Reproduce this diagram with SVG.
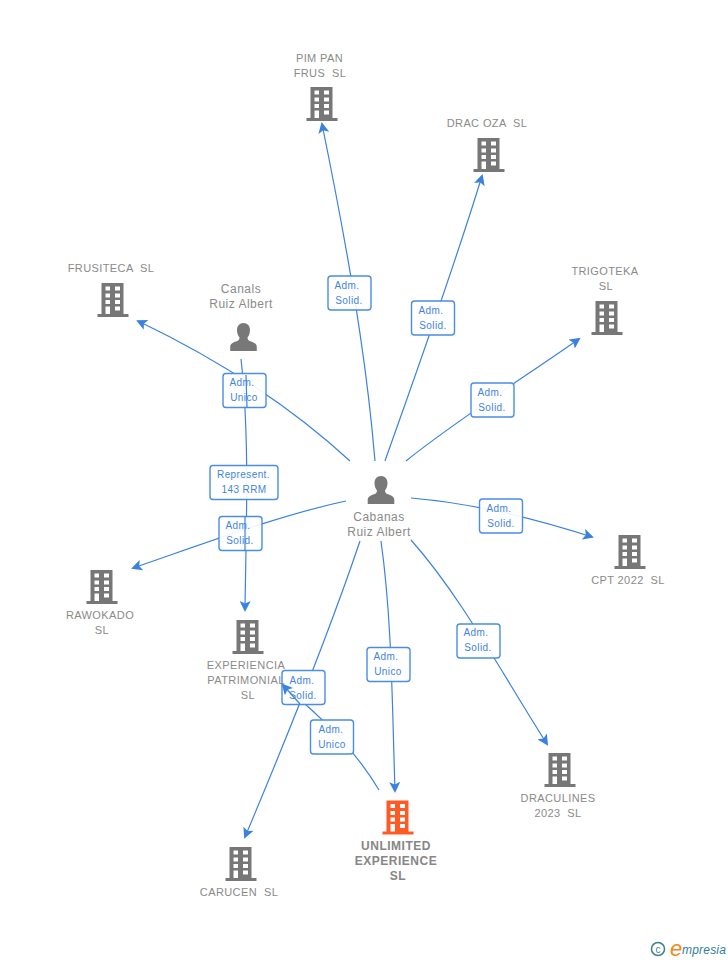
<svg xmlns="http://www.w3.org/2000/svg" xmlns:xlink="http://www.w3.org/1999/xlink" width="728" height="960" viewBox="0 0 728 960">
<style>
text{font-family:"Liberation Sans",Arial,sans-serif}
.n{font-size:11px;fill:#8a8a8a;text-anchor:middle;letter-spacing:.4px}
.p{font-size:12px;fill:#8a8a8a;text-anchor:middle;letter-spacing:.5px}
.u{font-size:12px;fill:#868686;text-anchor:middle;font-weight:bold;letter-spacing:.5px}
.l{font-size:10px;fill:#3f84e5;text-anchor:middle;letter-spacing:.4px}
.c{fill:none;stroke:#3b82e0;stroke-width:1.2}
.b{fill:#fff;fill-opacity:.93;stroke:#4a8de6;stroke-width:1.4}
</style>
<defs>
<marker id="a" markerWidth="13" markerHeight="11" refX="9" refY="5.500" orient="auto" markerUnits="userSpaceOnUse"><path d="M0 0L11 5.500L0 11L2.500 5.500Z" fill="#3b82e0"/></marker>
<symbol id="bld" viewBox="0 0 32 35" width="32" height="35" overflow="visible">
<path fill-rule="evenodd" fill="currentColor" d="M4.500 1H26.500V32H31.500V35H0.500V32H4.500ZM8.500 4.500V8.500H13V4.500ZM18 4.500V8.500H23V4.500ZM8.500 11.500V15.500H13V11.500ZM18 11.500V15.500H23V11.500ZM8.500 18V22H13V18ZM18 18V22H23V18ZM8.500 24.500V32H13V24.500ZM18 24.500V28.500H23V24.500Z"/>
</symbol>
<symbol id="per" viewBox="0 0 28 28" width="28" height="28" overflow="visible">
<path fill="#787878" d="M14 0C18 0 20.500 3 20.500 7C20.500 10 19.500 12.500 18 14.500C18 16.500 18.800 17.500 21 18.300C25 19.800 27.300 21 27.300 24V28H0.700V24C0.700 21 3 19.800 7 18.300C9.200 17.500 10 16.500 10 14.500C8.500 12.500 7.500 10 7.500 7C7.500 3 10 0 14 0Z"/>
</symbol>
</defs>
<g id="connectors">
<path class="c" d="M375 461C369 390 358 300 322 124" marker-end="url(#a)"/>
<path class="c" d="M385 461C410 390 450 280 482 176" marker-end="url(#a)"/>
<path class="c" d="M406 461C450 425 520 380 579 339" marker-end="url(#a)"/>
<path class="c" d="M350 461C300 415 230 365 138 321" marker-end="url(#a)"/>
<path class="c" d="M411 498C470 503 530 517 592 537" marker-end="url(#a)"/>
<path class="c" d="M346 501C280 515 200 545 133 568" marker-end="url(#a)"/>
<path class="c" d="M360 541C330 630 290 730 245 837" marker-end="url(#a)"/>
<path class="c" d="M381 541C392 620 392 700 395 791" marker-end="url(#a)"/>
<path class="c" d="M411 540C460 595 500 670 547 744" marker-end="url(#a)"/>
<path class="c" d="M379 790C355 750 325 720 283 685" marker-end="url(#a)"/>
<path class="c" d="M241 359C250 440 246 530 245 610" marker-end="url(#a)"/>
</g>
<g id="labels">
<g id="lbl-pim"><rect class="b" x="328" y="276" width="43" height="34" rx="3"/><text class="l" x="347" y="289">Adm.</text><text class="l" x="349" y="304">Solid.</text></g>
<g id="lbl-drac"><rect class="b" x="411.500" y="301" width="43" height="34" rx="3"/><text class="l" x="431" y="314">Adm.</text><text class="l" x="433" y="329">Solid.</text></g>
<g id="lbl-trig"><rect class="b" x="471" y="383" width="43" height="34" rx="3"/><text class="l" x="490" y="396">Adm.</text><text class="l" x="492" y="411">Solid.</text></g>
<g id="lbl-frus"><rect class="b" x="223" y="373.500" width="43" height="34" rx="3"/><text class="l" x="242" y="386">Adm.</text><text class="l" x="244" y="401">Unico</text></g>
<g id="lbl-cpt"><rect class="b" x="479.500" y="499" width="43" height="34" rx="3"/><text class="l" x="499" y="512">Adm.</text><text class="l" x="501" y="527">Solid.</text></g>
<g id="lbl-rep"><rect class="b" x="210" y="465.500" width="68" height="34" rx="3"/><text class="l" x="243.500" y="478">Represent.</text><text class="l" x="244" y="493">143 RRM</text></g>
<g id="lbl-raw"><rect class="b" x="219" y="516.500" width="43" height="34" rx="3"/><text class="l" x="238" y="529">Adm.</text><text class="l" x="240" y="544">Solid.</text></g>
<g id="lbl-drl"><rect class="b" x="457" y="624" width="43" height="34" rx="3"/><text class="l" x="476" y="636">Adm.</text><text class="l" x="478" y="651">Solid.</text></g>
<g id="lbl-unl"><rect class="b" x="367" y="647.500" width="43" height="34" rx="3"/><text class="l" x="386" y="660">Adm.</text><text class="l" x="388" y="675">Unico</text></g>
<g id="lbl-car"><rect class="b" x="282" y="670.500" width="43" height="34" rx="3"/><text class="l" x="302" y="684">Adm.</text><text class="l" x="303" y="699">Solid.</text></g>
<g id="lbl-exp"><rect class="b" x="310.500" y="720" width="43" height="34" rx="3"/><text class="l" x="331" y="733">Adm.</text><text class="l" x="332" y="748">Unico</text></g>
</g>
<g id="overlay">
<path class="c" d="M246 375L247 408"/>
<path class="c" d="M245 516L245 551"/>
<path class="c" d="M300 704L283 685" marker-end="url(#a)"/>
</g>
<g id="node-pimpan" color="#777"><use xlink:href="#bld" href="#bld" x="306" y="86"/><text class="n" x="319.500" y="62">PIM PAN</text><text class="n" x="320" y="77" xml:space="preserve">FRUS  SL</text></g>
<g id="node-dracoza" color="#777"><use xlink:href="#bld" href="#bld" x="473" y="137"/><text class="n" x="487" y="127" xml:space="preserve">DRAC OZA  SL</text></g>
<g id="node-trigoteka" color="#777"><use xlink:href="#bld" href="#bld" x="591" y="300"/><text class="n" x="605" y="275">TRIGOTEKA</text><text class="n" x="606" y="290">SL</text></g>
<g id="node-frusiteca" color="#777"><use xlink:href="#bld" href="#bld" x="97" y="282"/><text class="n" x="111" y="272" xml:space="preserve">FRUSITECA  SL</text></g>
<g id="node-canals"><use xlink:href="#per" href="#per" x="229.500" y="323"/><text class="p" x="241" y="293">Canals</text><text class="p" x="241" y="308">Ruiz Albert</text></g>
<g id="node-cabanas"><use xlink:href="#per" href="#per" x="367" y="476"/><text class="p" x="379" y="521">Cabanas</text><text class="p" x="379" y="536">Ruiz Albert</text></g>
<g id="node-cpt" color="#777"><use xlink:href="#bld" href="#bld" x="614" y="534"/><text class="n" x="628" y="584" xml:space="preserve">CPT 2022  SL</text></g>
<g id="node-rawokado" color="#777"><use xlink:href="#bld" href="#bld" x="86" y="569"/><text class="n" x="100" y="619">RAWOKADO</text><text class="n" x="102" y="634">SL</text></g>
<g id="node-experiencia" color="#777"><use xlink:href="#bld" href="#bld" x="232" y="619"/><text class="n" x="246" y="669">EXPERIENCIA</text><text class="n" x="246" y="684">PATRIMONIAL</text><text class="n" x="248" y="699">SL</text></g>
<g id="node-draculines" color="#777"><use xlink:href="#bld" href="#bld" x="544" y="752"/><text class="n" x="558" y="802">DRACULINES</text><text class="n" x="558" y="817" xml:space="preserve">2023  SL</text></g>
<g id="node-carucen" color="#777"><use xlink:href="#bld" href="#bld" x="225" y="846"/><text class="n" x="239" y="896" xml:space="preserve">CARUCEN  SL</text></g>
<g id="node-unlimited" color="#ff5a26"><use xlink:href="#bld" href="#bld" x="382" y="799.500"/><text class="u" x="396" y="850">UNLIMITED</text><text class="u" x="396" y="865">EXPERIENCE</text><text class="u" x="398" y="880">SL</text></g>
<g id="logo">
<circle cx="658" cy="949" r="6.500" fill="none" stroke="#3d7f95" stroke-width="1.500"/>
<text x="658" y="952.500" font-size="10" fill="#3d7f95" text-anchor="middle">c</text>
<text x="670" y="956" font-size="22" font-style="italic" fill="#f08a1d">e</text>
<text x="682" y="954" font-size="12" font-style="italic" fill="#2f7f9b" letter-spacing=".2">mpresia</text>
</g>
</svg>
